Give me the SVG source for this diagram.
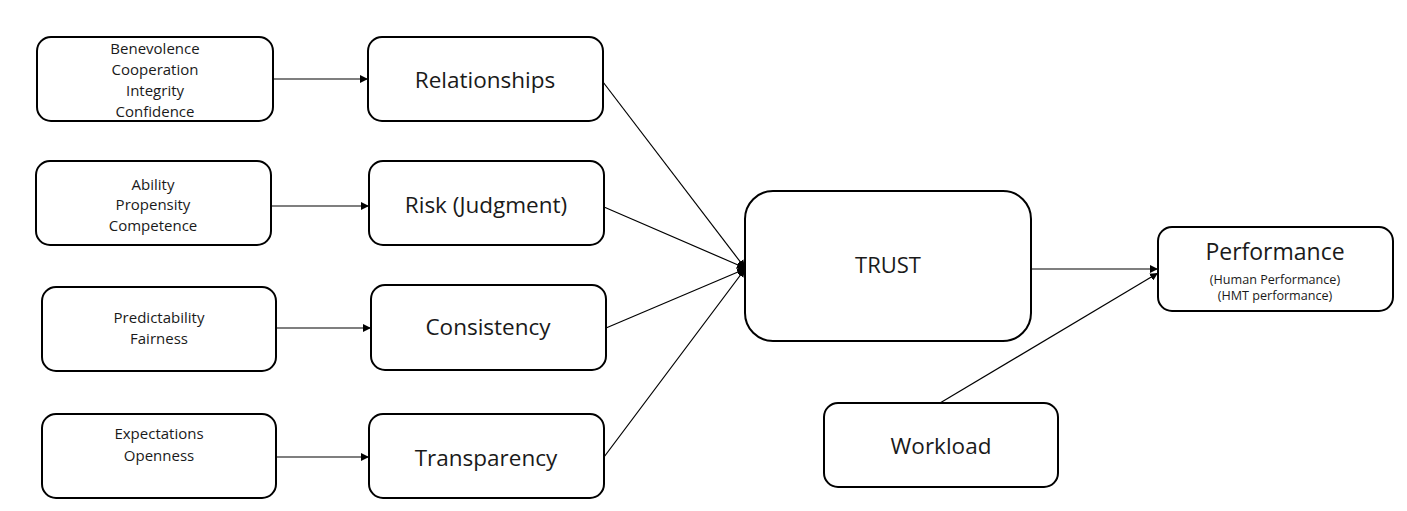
<svg xmlns="http://www.w3.org/2000/svg" width="1407" height="511" viewBox="0 0 1407 511">
<defs>
<marker id="ah" viewBox="0 0 10 10" refX="10" refY="5" markerWidth="8" markerHeight="8" markerUnits="userSpaceOnUse" orient="auto"><path d="M0,0 L10,5 L0,10 z" fill="#000"/></marker>
<style>
.b{fill:#fff;stroke:#000;stroke-width:2}
.t{font-family:"Open Sans","Noto Sans",sans-serif;fill:#1a1a1a;text-anchor:middle}
.s{font-size:15px}
.m{font-size:22.5px}
.c{stroke:#000;stroke-width:1.2;fill:none}
</style>
</defs>
<rect width="1407" height="511" fill="#fff"/>
<g id="connectors">
<line class="c" x1="273" y1="79" x2="368" y2="79" marker-end="url(#ah)"/>
<line class="c" x1="271" y1="206" x2="369" y2="206" marker-end="url(#ah)"/>
<line class="c" x1="276" y1="328" x2="371" y2="328" marker-end="url(#ah)"/>
<line class="c" x1="276" y1="457" x2="369" y2="457" marker-end="url(#ah)"/>
<line class="c" x1="603" y1="82" x2="745" y2="268" marker-end="url(#ah)"/>
<line class="c" x1="604" y1="207" x2="745" y2="268" marker-end="url(#ah)"/>
<line class="c" x1="606" y1="328" x2="745" y2="269" marker-end="url(#ah)"/>
<line class="c" x1="604" y1="457" x2="745" y2="269" marker-end="url(#ah)"/>
<line class="c" x1="1031" y1="269" x2="1158" y2="269" marker-end="url(#ah)"/>
<line class="c" x1="940" y1="403" x2="1158" y2="273" marker-end="url(#ah)"/>
<circle cx="742" cy="268" r="4" fill="#000"/>
</g>
<g id="n-benevolence">
<rect class="b" x="37" y="37" width="236" height="84" rx="14"/>
<text class="t s" x="155" y="54">Benevolence</text>
<text class="t s" x="155" y="75">Cooperation</text>
<text class="t s" x="155" y="96">Integrity</text>
<text class="t s" x="155" y="117">Confidence</text>
</g>
<g id="n-relationships">
<rect class="b" x="368" y="37" width="235" height="84" rx="14"/>
<text class="t m" x="485" y="88">Relationships</text>
</g>
<g id="n-ability">
<rect class="b" x="36" y="161" width="235" height="84" rx="14"/>
<text class="t s" x="153" y="190">Ability</text>
<text class="t s" x="153" y="210">Propensity</text>
<text class="t s" x="153" y="231">Competence</text>
</g>
<g id="n-risk">
<rect class="b" x="369" y="161" width="235" height="84" rx="14"/>
<text class="t m" x="486" y="213">Risk (Judgment)</text>
</g>
<g id="n-predictability">
<rect class="b" x="42" y="287" width="234" height="84" rx="14"/>
<text class="t s" x="159" y="323">Predictability</text>
<text class="t s" x="159" y="344">Fairness</text>
</g>
<g id="n-consistency">
<rect class="b" x="371" y="285" width="235" height="85" rx="14"/>
<text class="t m" x="488" y="335">Consistency</text>
</g>
<g id="n-expectations">
<rect class="b" x="42" y="414" width="234" height="84" rx="14"/>
<text class="t s" x="159" y="439">Expectations</text>
<text class="t s" x="159" y="461">Openness</text>
</g>
<g id="n-transparency">
<rect class="b" x="369" y="414" width="235" height="84" rx="14"/>
<text class="t m" x="486" y="466">Transparency</text>
</g>
<g id="n-trust">
<rect class="b" x="745" y="191" width="286" height="150" rx="28"/>
<text class="t" font-size="22" x="888" y="273">TRUST</text>
</g>
<g id="n-performance">
<rect class="b" x="1158" y="227" width="235" height="84" rx="14"/>
<text class="t" font-size="23" x="1275" y="260">Performance</text>
<text class="t" font-size="12.6" x="1275" y="284">(Human Performance)</text>
<text class="t" font-size="12.6" x="1275" y="300">(HMT performance)</text>
</g>
<g id="n-workload">
<rect class="b" x="824" y="403" width="234" height="84" rx="14"/>
<text class="t m" x="941" y="454">Workload</text>
</g>
</svg>
